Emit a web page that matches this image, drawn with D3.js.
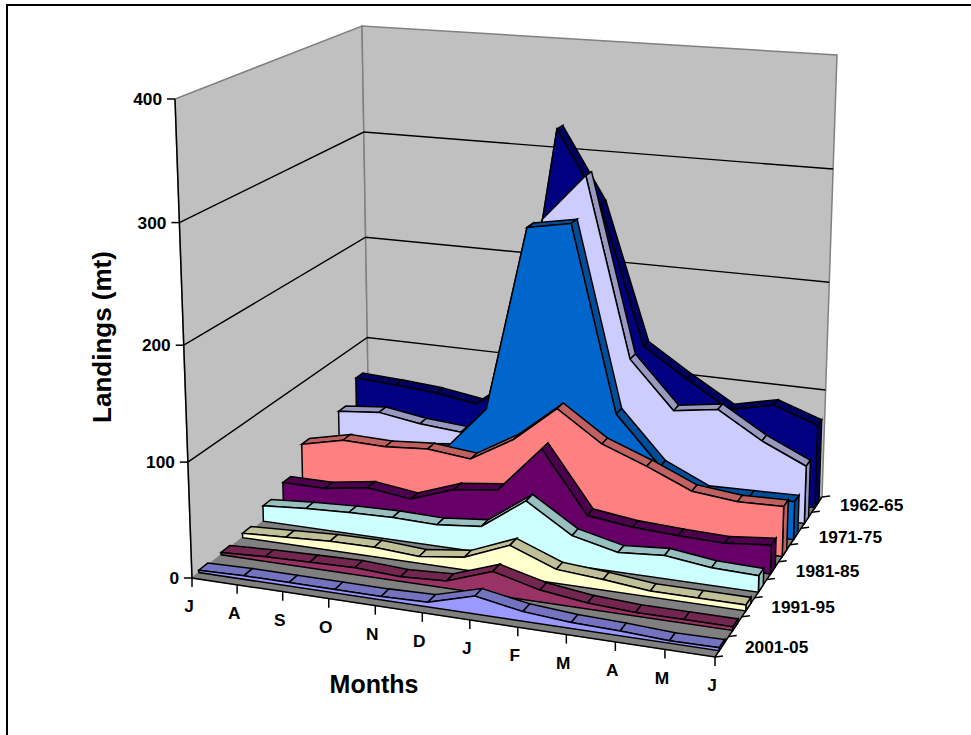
<!DOCTYPE html>
<html><head><meta charset="utf-8">
<script src="https://cdn.jsdelivr.net/npm/d3@7"></script>
<style>html,body{margin:0;padding:0;background:#fff}svg{display:block}text{font-family:"Liberation Sans",Arial,sans-serif;font-weight:bold;fill:#000}</style>
</head><body><svg id="c" width="971" height="735"></svg>
<script>
const months = ["J","A","S","O","N","D","J","F","M","A","M","J"];
const seriesNames = ["1962-65","1966-70","1971-75","1976-80","1981-85","1986-90","1991-95","1996-00","2001-05"];
const shownSeries = ["1962-65","1971-75","1981-85","1991-95","2001-05"];
const valueTicks = [0,100,200,300,400];
const faceColors = ["#000080","#CCCCFF","#0066CC","#FF8080","#660066","#CCFFFF","#FFFFCC","#993366","#9999FF"];
const stripColors = ["#000060","#9999C0","#004D99","#C06060","#4D004D","#99C0C0","#C0C099","#732650","#7373C0"];
const s1962 = [68,66,63,57,87,323,258,131,105,81,90,76];
const s1966 = [48,52,46,43,70,251,293,131,88,94,70,52];
const s1971 = [30,32,35,40,83,253,260,93,50,32,33,34];
const s1976 = [43,52,51,54,50,73,106,79,64,47,43,44];
const s1981 = [21,21,27,22,36,41,83,29,24,22,21,25];
const s1986 = [14,17,19,20,19,23,51,26,17,20,15,14];
const s1991 = [4,6,8,8.5,6,11,27,12,9,5,5,5];
const s1996 = [2,4,5,6,4,6,20,10,5,3,3,3];
const s2001 = [2,3,3,3,3,4,15,8,5,4,2,2.5];
const allSeries = [s1962,s1966,s1971,s1976,s1981,s1986,s1991,s1996,s2001];

const FL=[192,578],FR=[715,657],BR=[822,497],BL=[369,437];
const TFL=[175,99],TFR=[726,143],TBR=[837,55],TBL=[362,26];
function homography(p00,p10,p11,p01){
  const dx1=p10[0]-p11[0],dx2=p01[0]-p11[0],sx=p00[0]-p10[0]+p11[0]-p01[0];
  const dy1=p10[1]-p11[1],dy2=p01[1]-p11[1],sy=p00[1]-p10[1]+p11[1]-p01[1];
  const D=dx1*dy2-dx2*dy1,g=(sx*dy2-dx2*sy)/D,h=(dx1*sy-sx*dy1)/D;
  const a=p10[0]-p00[0]+g*p10[0],b=p01[0]-p00[0]+h*p01[0],c=p00[0];
  const d=p10[1]-p00[1]+g*p10[1],e=p01[1]-p00[1]+h*p01[1],f=p00[1];
  return (u,v)=>{const w=g*u+h*v+1;return [(a*u+b*v+c)/w,(d*u+e*v+f)/w];};
}
const floorH=homography(FL,FR,BR,BL), topH=homography(TFL,TFR,TBR,TBL);
const xS=d3.scaleLinear().domain([0,11]).range([0,1]);
const zS=d3.scaleLinear().domain([0,9]).range([0,1]);
const yS=d3.scaleLinear().domain(valueTicks).range([0,.242,.486,.742,1]);
function P(m,z,val){
  const a=floorH(xS(m),zS(z)),b=topH(xS(m),zS(z)),t=yS(val);
  return [a[0]+(b[0]-a[0])*t,a[1]+(b[1]-a[1])*t];
}
const svg=d3.select("#c");
const line=d3.line();
const poly=pts=>line(pts)+"Z";
svg.append("path").attr("d",line([[971,5],[7,5],[7,735]])).attr("fill","none").attr("stroke","#000").attr("stroke-width",2);
// walls
svg.append("path").attr("d",poly([P(0,0,0),P(0,0,400),P(0,9,400),P(0,9,0)])).attr("fill","#C0C0C0").attr("stroke","#808080").attr("stroke-width",1.5);
svg.append("path").attr("d",poly([P(0,9,0),P(0,9,400),P(11,9,400),P(11,9,0)])).attr("fill","#C0C0C0").attr("stroke","#808080").attr("stroke-width",1.5);
// floor
svg.append("path").attr("d",poly([P(0,0,0),P(11,0,0),P(11,9,0),P(0,9,0)])).attr("fill","#808080").attr("stroke","#808080");
// gridlines
valueTicks.filter(v=>v>0&&v<400).forEach(v=>{
  svg.append("path").attr("d",line([P(0,0,v),P(0,9,v),P(11,9,v)])).attr("fill","none").attr("stroke","#000").attr("stroke-width",1.4);
});
// axes
const axisG=svg.append("g").attr("stroke","#000").attr("stroke-width",1.5).attr("fill","none");
axisG.append("path").attr("d",line([P(0,0,400),P(0,0,0),P(11,0,0),P(11,9,0)]));
valueTicks.forEach(v=>{
  const p=P(0,0,v);
  axisG.append("path").attr("d",line([p,[p[0]-8,p[1]]]));
  svg.append("text").attr("x",p[0]-13).attr("y",p[1]).attr("dy",".36em").attr("text-anchor","end").attr("font-size",17.3).text(v);
});
months.forEach((t,i)=>{
  const p=P(i,0,0);
  axisG.append("path").attr("d",line([p,[p[0],p[1]+9]]));
  svg.append("text").attr("x",p[0]-3).attr("y",p[1]+28).attr("dy",".36em").attr("text-anchor","middle").attr("font-size",17.3).text(t);
});
d3.range(10).forEach(k=>{
  const p=P(11,k,0);
  axisG.append("path").attr("d",line([p,[p[0]+8,p[1]-1]]));
});
seriesNames.forEach((n,i)=>{
  if(!shownSeries.includes(n))return;
  const p=P(11,8-i+0.5,0);
  svg.append("text").attr("x",p[0]+23).attr("y",p[1]).attr("dy",".36em").attr("font-size",17.3).text(n);
});
// series, back to front
const zFront=0.3,zBack=0.7;
allSeries.forEach((vals,i)=>{
  const k=8-i,zf=k+zFront,zb=k+zBack;
  const g=svg.append("g").attr("stroke","#000").attr("stroke-width",1.5).attr("stroke-linejoin","miter");
  d3.pairs(vals).forEach((pr,m)=>{
    g.append("path").attr("d",poly([P(m,zf,pr[0]),P(m+1,zf,pr[1]),P(m+1,zb,pr[1]),P(m,zb,pr[0])])).attr("fill",stripColors[i]);
  });
  g.append("path").attr("d",poly([P(11,zf,0),P(11,zf,vals[11]),P(11,zb,vals[11]),P(11,zb,0)])).attr("fill",stripColors[i]);
  const face=vals.map((v,m)=>P(m,zf,v));
  g.append("path").attr("d",poly([P(0,zf,0),...face,P(11,zf,0)])).attr("fill",faceColors[i]);
});
// titles
svg.append("text").attr("x",374).attr("y",684).attr("dy",".36em").attr("text-anchor","middle").attr("font-size",25).text("Months");
svg.append("text").attr("transform","translate(102,337) rotate(-90)").attr("dy",".36em").attr("text-anchor","middle").attr("font-size",26).text("Landings (mt)");
</script></body></html>
